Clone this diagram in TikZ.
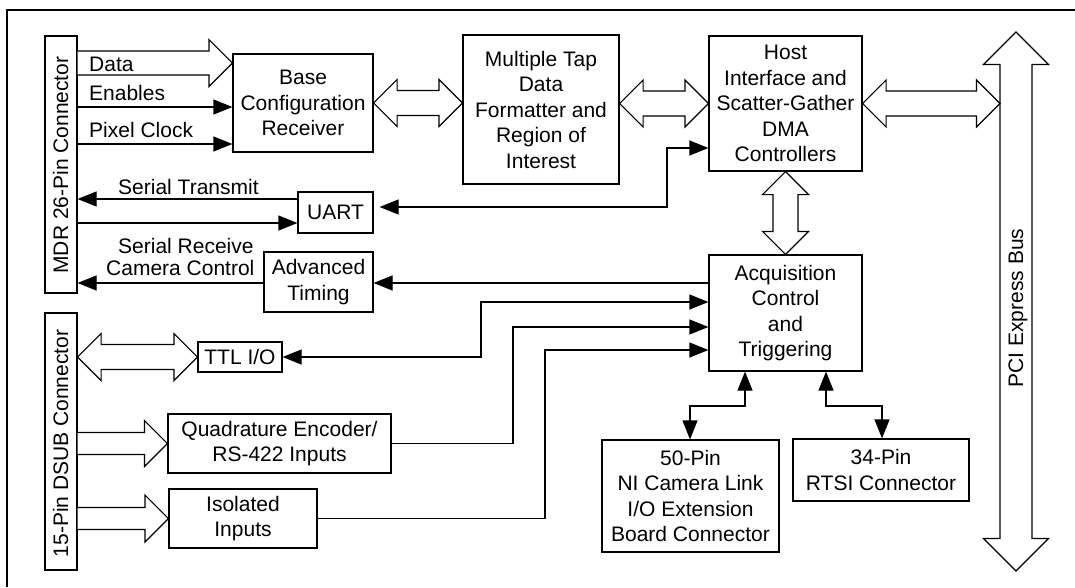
\documentclass[tikz,border=0pt]{standalone}
\usepackage{fontspec}
\setmainfont{Liberation Sans}
\usetikzlibrary{arrows.meta,calc}
\newcommand\lbl{\fontsize{21}{25.5}\selectfont}
\tikzset{
 box/.style={draw, line width=1.2pt, inner sep=0pt, align=center, font=\lbl},
 lab/.style={inner sep=0pt, font=\lbl},
 conn/.style={line width=1.2pt},
 tip/.style={-{Triangle[length=19pt,width=15pt]}},
 tips/.style={{Triangle[length=19pt,width=15pt]}-{Triangle[length=19pt,width=15pt]}},
 fat/.style={draw, fill=white, line width=1.2pt, line join=miter},
}
% horizontal double fat arrow: #1 left end, #2 right end (x used), #3 shaft half, #4 head half
\newcommand\fatH[4]{\draw[fat] let \p1=#1, \p2=#2 in
 (\x1,\y1) -- (\x1+#4,\y1+#4) -- (\x1+#4,\y1+#3) -- (\x2-#4,\y1+#3) -- (\x2-#4,\y1+#4) -- (\x2,\y1)
 -- (\x2-#4,\y1-#4) -- (\x2-#4,\y1-#3) -- (\x1+#4,\y1-#3) -- (\x1+#4,\y1-#4) -- cycle;}
% horizontal single fat arrow
\newcommand\fatS[4]{\draw[fat] let \p1=#1, \p2=#2 in
 (\x1,\y1+#3) -- (\x2-#4,\y1+#3) -- (\x2-#4,\y1+#4) -- (\x2,\y1)
 -- (\x2-#4,\y1-#4) -- (\x2-#4,\y1-#3) -- (\x1,\y1-#3);}
% vertical double fat arrow: #1 top end, #2 bottom end (y used)
\newcommand\fatV[4]{\draw[fat] let \p1=#1, \p2=#2 in
 (\x1,\y1) -- (\x1+#4,\y1-#4) -- (\x1+#3,\y1-#4) -- (\x1+#3,\y2+#4) -- (\x1+#4,\y2+#4) -- (\x1,\y2)
 -- (\x1-#4,\y2+#4) -- (\x1-#3,\y2+#4) -- (\x1-#3,\y1-#4) -- (\x1-#4,\y1-#4) -- cycle;}
\begin{document}
\begin{tikzpicture}[x=1pt,y=-1pt]
\useasboundingbox (0,0) rectangle (1075,587);
\draw[line width=2.2pt] (7,587) -- (7,10) -- (1075,10);

% connectors (left)
\node[box, minimum width=32pt, minimum height=257pt] (MDR) at (61,164.5) {};
\node[lab, rotate=90, anchor=base] (MDRt) at (68,165) {MDR 26-Pin Connector};
\node[box, minimum width=32pt, minimum height=257pt] (DSUB) at (61,441.5) {};
\node[lab, rotate=90, anchor=base] (DSUBt) at (68,443.5) {15-Pin DSUB Connector};

% blocks
\node[box, minimum width=140pt, minimum height=98pt] (Base) at (303,103) {Base\\Configuration\\Receiver};
\node[box, minimum width=156pt, minimum height=149pt] (MT) at (541,109.5) {Multiple Tap\\Data\\Formatter and\\Region of\\Interest};
\node[box, minimum width=153pt, minimum height=135pt] (Host) at (785.5,103.5) {Host\\Interface and\\Scatter-Gather\\DMA\\Controllers};
\node[box, minimum width=75pt, minimum height=41pt] (UART) at (335.5,212.5) {UART};
\node[box, minimum width=109pt, minimum height=60pt] (AT) at (318.5,282) {Advanced\\Timing};
\node[box, minimum width=153pt, minimum height=116pt] (Acq) at (785.5,313) {Acquisition\\Control\\and\\Triggering};
\node[box, minimum width=84pt, minimum height=30pt] (TTL) at (240,357) {TTL I/O};
\node[box, minimum width=223pt, minimum height=59pt] (Quad) at (279.5,443.5) {Quadrature Encoder/\\RS-422 Inputs};
\node[box, minimum width=148pt, minimum height=59pt] (Iso) at (243,518.5) {Isolated\\Inputs};
\node[box, minimum width=177pt, minimum height=112pt] (P50) at (690.5,496) {50-Pin\\NI Camera Link\\I/O Extension\\Board Connector};
\node[box, minimum width=176pt, minimum height=62pt] (RTSI) at (881,470) {34-Pin\\RTSI Connector};

% PCI bus
\coordinate (pcitop) at (1016,32);
\coordinate (pcibot) at (1016,571);
\coordinate (pcil) at (1000,103);
\fatV{(pcitop)}{(pcibot)}{16pt}{32.5pt}
\node[lab, rotate=90, anchor=base] (PCIt) at (1023,308) {PCI Express Bus};

% helper levels
\coordinate (yData) at (0,63);
\coordinate (yEn) at (0,107);
\coordinate (yPx) at (0,144);
\coordinate (yST) at (0,199);
\coordinate (ySR) at (0,223);
\coordinate (yCC) at (0,283);
\coordinate (yU) at (0,207);
\coordinate (yH) at (0,148);
\coordinate (xU) at (667,0);
\coordinate (y302) at (0,302);
\coordinate (y327) at (0,327);
\coordinate (y350) at (0,350);
\coordinate (x481) at (481,0);
\coordinate (x513) at (513,0);
\coordinate (x545) at (545,0);
\coordinate (y406) at (0,406);
\coordinate (x745) at (745,0);
\coordinate (x690) at (690,0);
\coordinate (x826) at (826,0);
\coordinate (x882) at (882,0);

% fat arrows
\fatS{(MDR.east |- yData)}{(Base.west)}{12pt}{23.5pt}
\fatH{(Base.east)}{(MT.west)}{12.5pt}{23.5pt}
\fatH{(MT.east |- Host.west)}{(Host.west)}{12.5pt}{23.5pt}
\fatH{(Host.east)}{(pcil)}{12.5pt}{23.5pt}
\fatV{(Host.south)}{(Acq.north)}{12.5pt}{23pt}
\fatH{(DSUB.east |- TTL.west)}{(TTL.west)}{12.5pt}{23.5pt}
\fatS{(DSUB.east |- Quad.west)}{(Quad.west)}{11pt}{23pt}
\fatS{(DSUB.east |- Iso.west)}{(Iso.west)}{11pt}{23.5pt}

% labels on MDR lines
\node[lab, anchor=base west] (lData) at (89,71) {Data};
\node[lab, anchor=base west] (lEn) at (89,100) {Enables};
\node[lab, anchor=base west] (lPx) at (89,137) {Pixel Clock};
\node[lab, anchor=base west] (lST) at (118,194) {Serial Transmit};
\node[lab, anchor=base west] (lSR) at (118,253) {Serial Receive};
\node[lab, anchor=base west] (lCC) at (106,275) {Camera Control};

% thin connectors
\draw[conn,tip] (MDR.east |- yEn) -- (Base.west |- yEn);
\draw[conn,tip] (MDR.east |- yPx) -- (Base.west |- yPx);
\draw[conn,tip] (UART.west |- yST) -- (MDR.east |- yST);
\draw[conn,tip] (MDR.east |- ySR) -- (UART.west |- ySR);
\draw[conn,tip] (AT.west |- yCC) -- (MDR.east |- yCC);
\draw[conn,tip] (Acq.west |- yCC) -- (AT.east |- yCC);
\draw[conn,tips,shorten <=6pt] (UART.east |- yU) -| (xU |- yH) -- (Host.west |- yH);
\draw[conn,tips] (TTL.east) -| (x481 |- y302) -- (Acq.west |- y302);
\draw[conn,tip] (Quad.east) -| (x513 |- y327) -- (Acq.west |- y327);
\draw[conn,tip] (Iso.east) -| (x545 |- y350) -- (Acq.west |- y350);
\draw[conn,tips] (Acq.south -| x745) |- (x690 |- y406) -- (P50.north -| x690);
\draw[conn,tips] (Acq.south -| x826) |- (x882 |- y406) -- (RTSI.north -| x882);
\end{tikzpicture}
\end{document}
